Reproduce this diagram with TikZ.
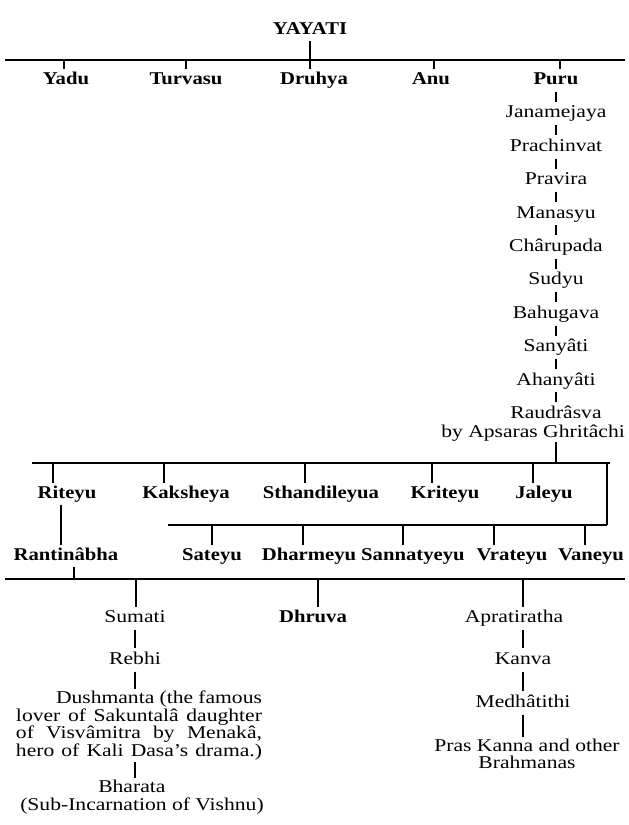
\documentclass[tikz,border=0pt]{standalone}
\usepackage{fontspec}
\setmainfont{Liberation Serif}[FakeStretch=1.2, BoldFeatures={FakeStretch=1.15}]
\usetikzlibrary{positioning}

\begin{document}
\begin{tikzpicture}[x=1pt, y=-1pt,
    heir/.style={inner sep=2pt, text height=13pt, text depth=4pt, font=\fontsize{18}{18}\selectfont},
    son/.style={heir, font=\fontsize{18}{18}\selectfont\bfseries},
    note/.style={inner sep=1pt, font=\fontsize{18}{17.5}\selectfont},
    bar/.style={line width=2.6pt},
    tick/.style={line width=1.2pt},
    chain/.style={line width=1.1pt, shorten <=1pt, shorten >=1pt}
]
\useasboundingbox (0,0) rectangle (629,825);

% Yayati and his five sons
\node[son] (yayati) at (310,30) {YAYATI};
\coordinate (b1) at (0,60);
\draw[bar] (5,60) -- (625,60);
\draw[tick] (yayati.south -| 310,0) -- (310,0 |- b1);
\foreach \n/\t/\x/\tx in {yadu/Yadu/66/64, turvasu/Turvasu/186/186, druhya/Druhya/314/310, anu/Anu/431/434, puru/Puru/556/560} {
  \node[son] (\n) at (\x,80) {\t};
  \draw[tick] (\tx,0 |- b1) -- (\tx,0 |- \n.north);
}

% line of Puru
\foreach \n/\t [remember=\n as \p (initially puru)] in {jan/Janamejaya, prach/Prachinvat, prav/Pravira, mana/Manasyu, charu/Chârupada, sudyu/Sudyu, bahu/Bahugava, sany/Sanyâti, ahan/Ahanyâti, raud/Raudrâsva} {
  \node[heir, below=12pt of \p] (\n) {\t};
  \draw[chain] (\p) -- (\n);
}
\node[note, anchor=north east, inner sep=0pt] (ghrit) at (raud.south -| 625,0) {by Apsaras Ghritâchi};

% sons of Raudrasva
\coordinate (b2) at (0,463);
\draw[bar] (32,463) -- (610,463);
\draw[bar] (607,463) -- (607,525);
\draw[tick] (ghrit.south -| puru) -- (puru |- b2);
\foreach \n/\t/\x/\tx in {riteyu/Riteyu/67/53, kaksheya/Kaksheya/186/164, sthandi/Sthandileyua/321/305, kriteyu/Kriteyu/445/432, jaleyu/Jaleyu/544/533} {
  \node[son] (\n) at (\x,494) {\t};
  \draw[tick] (\tx,0 |- b2) -- (\tx,0 |- \n.north);
}
\coordinate (b3) at (0,525);
\draw[bar] (168,525) -- (607,525);
\foreach \n/\t/\x/\tx in {sateyu/Sateyu/212/212, dharmeyu/Dharmeyu/309/303, sannat/Sannatyeyu/413/403, vrateyu/Vrateyu/512/494, vaneyu/Vaneyu/591/585} {
  \node[son] (\n) at (\x,556) {\t};
  \draw[tick] (\tx,0 |- b3) -- (\tx,0 |- \n.north);
}
\node[son] (rantin) at (66,556) {Rantinâbha};
\draw[tick] (61,0 |- riteyu.south) -- (61,0 |- rantin.north);

% sons of Rantinabha
\coordinate (b4) at (0,579);
\draw[bar] (5,579) -- (625,579);
\draw[tick] (74,0 |- rantin.south) -- (74,0 |- b4);
\node[heir] (sumati) at (135,618) {Sumati};
\node[son] (dhruva) at (313,618) {Dhruva};
\node[heir] (aprat) at (514,618) {Apratiratha};
\foreach \n/\tx in {sumati/136, dhruva/318, aprat/523}
  \draw[tick] (\tx,0 |- b4) -- (\tx,0 |- \n.north);

% line of Sumati
\node[heir] (rebhi) at (135,660) {Rebhi};
\node[note, align=justify, text width=246pt, anchor=north] (dush) at (139,690)
  {\parfillskip=0pt\hspace*{40pt}Dushmanta (the famous\linebreak lover of Sakuntalâ daughter\linebreak of Visvâmitra by Menakâ,\linebreak hero of Kali Dasa's drama.)\par};
\node[note, align=left] (bharata) at (142,797) {\hspace*{78pt}Bharata\\(Sub-Incarnation of Vishnu)};
\draw[chain] (sumati) -- (rebhi);
\draw[chain] (rebhi) -- (rebhi |- dush.north);
\draw[chain] (dush.south -| rebhi) -- (rebhi |- bharata.north);

% line of Apratiratha
\node[heir] (kanva) at (523,660) {Kanva};
\node[heir] (medha) at (523,703) {Medhâtithi};
\node[note, align=center] (kanna) at (527,754) {Pras Kanna and other\\Brahmanas};
\draw[chain] (aprat.south -| kanva) -- (kanva);
\draw[chain] (kanva) -- (medha);
\draw[chain] (medha) -- (medha |- kanna.north);
\end{tikzpicture}
\end{document}
